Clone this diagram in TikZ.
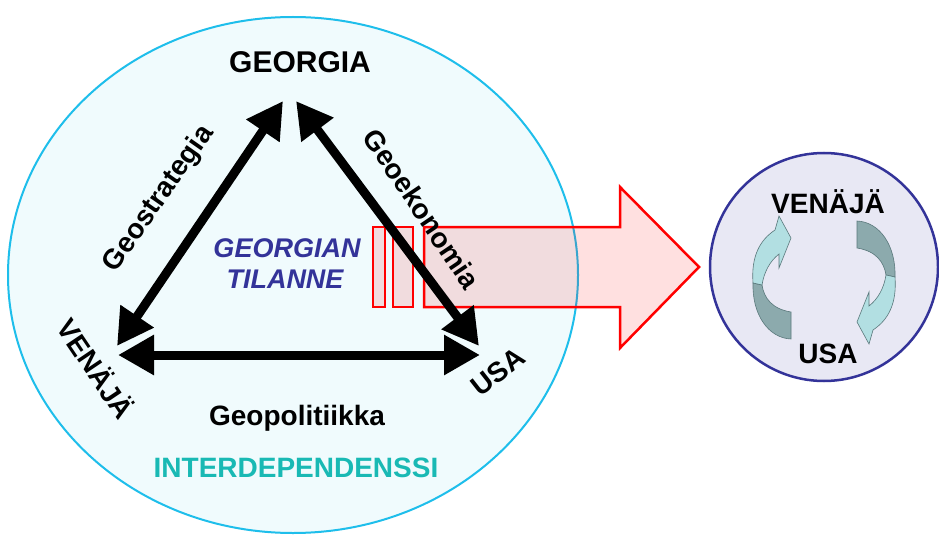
\documentclass[tikz,border=0pt]{standalone}
\usepackage{fontspec}
\setmainfont{Liberation Sans}
\usetikzlibrary{arrows.meta}

\definecolor{ringblue}{RGB}{30,190,235}
\definecolor{ringfill}{RGB}{240,251,253}
\definecolor{navy}{RGB}{51,51,153}
\definecolor{tealtext}{RGB}{25,185,180}
\definecolor{lilac}{RGB}{232,232,244}
\definecolor{cycdark}{RGB}{140,170,173}
\definecolor{cyclight}{RGB}{178,223,226}
\definecolor{cycline}{RGB}{90,120,123}

\begin{document}
\begin{tikzpicture}[x=1pt,y=-1pt,>={Triangle[length=36pt,width=38pt]},
  link/.style={<->,line width=9pt},
  lbl/.style={inner sep=0pt,font=\fontsize{28}{30}\selectfont\bfseries},
  redarrow/.style={draw=red,line width=2.5pt,fill=red,fill opacity=0.12,line join=miter},
  cyc/.style={draw=cycline,line width=0.6pt}]

\useasboundingbox[fill=white] (0,0) rectangle (939,540);

% big ring
\draw[ringblue,line width=2pt,fill=ringfill] (293,275) ellipse [x radius=285pt,y radius=258pt];

% red arrow out of the ring
\draw[redarrow] (373,227) rectangle (385,307);
\draw[redarrow] (393,227) rectangle (413,307);
\draw[redarrow] (424,227) -- (620,227) -- (620,187) -- (699,267)
  -- (620,348) -- (620,307) -- (424,307) -- cycle;

% triangle corners
\coordinate (gL) at (283,101);
\coordinate (gR) at (296,101);
\coordinate (vT) at (117,346);
\coordinate (vR) at (118,355);
\coordinate (uT) at (479,346);
\coordinate (uL) at (480,355);

\draw[link] (vT) -- (gL);
\draw[link] (gR) -- (uT);
\draw[link] (vR) -- (uL);

\node[lbl,anchor=base,font=\fontsize{30}{32}\selectfont\bfseries] (georgia) at (300,73) {GEORGIA};
\node[lbl,rotate=-56] (venaja) at (97,368) {VENÄJÄ};
\node[lbl,rotate=38] (usa) at (498,372) {USA};

\node[lbl,rotate=55] (strat) at (159,199) {Geostrategia};
\node[lbl,rotate=-56] (ekon) at (422,209) {Geoekonomia};
\node[lbl,anchor=base] (polit) at (297,425) {Geopolitiikka};

\node[lbl,anchor=base,navy,font=\fontsize{27}{30}\selectfont\bfseries\itshape] (tilA) at (287,257) {GEORGIAN};
\node[lbl,anchor=base,navy,font=\fontsize{27}{30}\selectfont\bfseries\itshape] (tilB) at (285,288) {TILANNE};

\node[lbl,anchor=base,tealtext] (inter) at (296,477) {INTERDEPENDENSSI};

% small ring
\draw[navy,line width=2.5pt,fill=lilac] (824,267) circle [radius=114pt];
\node[lbl,anchor=base] (venaja2) at (828,213) {VENÄJÄ};
\node[lbl,anchor=base] (usa2) at (828,363) {USA};

% turning arrows
\foreach \ang in {0,180}{
\begin{scope}[rotate around={\ang:(824,280)}]
\draw[cyc,fill=cycdark] (753,283) .. controls (752,314) and (768,338) .. (791,339)
  -- (791,312) .. controls (772,309) and (764,298) .. (762,285) -- cycle;
\draw[cyc,fill=cyclight] (753,283) .. controls (751,256) and (760,240) .. (775,230)
  -- (779,216) -- (791,238) -- (779,268) -- (779,254)
  .. controls (770,261) and (764,272) .. (762,285) -- cycle;
\end{scope}
}
\end{tikzpicture}
\end{document}
